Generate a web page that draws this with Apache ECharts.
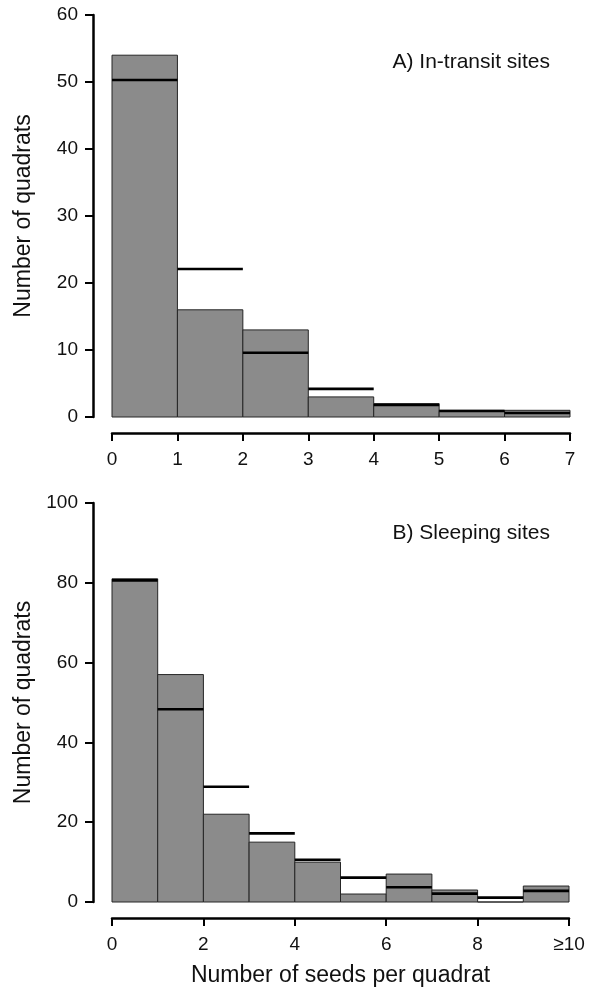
<!DOCTYPE html>
<html>
<head>
<meta charset="utf-8" />
<title>Seeds per quadrat</title>
<script src="https://cdn.jsdelivr.net/npm/echarts@6/dist/echarts.min.js"></script>
</head>
<body style="margin:0;background:#fff">
<div id="main" style="width:595px;height:988px;"></div>
<script type="text/javascript">
// A) In-transit sites: bins start at 0..6, width 1
var binsA = [0, 1, 2, 3, 4, 5, 6];
var obsA = [54, 16, 13, 3, 2, 1, 1];
var expA = [50.3, 22.1, 9.6, 4.2, 1.8, 0.9, 0.6];
var xTicksA = [0, 1, 2, 3, 4, 5, 6, 7];

// B) Sleeping sites: bins 0..9 (last bin is >=10)
var binsB = [0, 1, 2, 3, 4, 5, 6, 7, 8, 9];
var obsB = [81, 57, 22, 15, 10, 2, 7, 3, 0, 4];
var expB = [80.6, 48.3, 28.9, 17.2, 10.6, 6.1, 3.7, 2.1, 1.1, 2.8];
var xTicksB = [0, 2, 4, 6, 8, 10];
var xLabelsB = ['0', '2', '4', '6', '8', '≥10'];

var font = 'Liberation Sans, Arial, sans-serif';

function pairs(xs, ys) {
	var out = [];
	for (var i = 0; i < xs.length; i++) out.push([xs[i], ys[i]]);
	return out;
}

function barItem(params, api) {
	var p0 = api.coord([api.value(0), api.value(1)]);
	var p1 = api.coord([api.value(0) + 1, 0]);
	return {
		type: 'rect',
		shape: {x: p0[0], y: p0[1], width: p1[0] - p0[0], height: p1[1] - p0[1]},
		style: {fill: '#8b8b8b', stroke: '#262626', lineWidth: 1}
	};
}

function lineItem(params, api) {
	var p0 = api.coord([api.value(0), api.value(1)]);
	var p1 = api.coord([api.value(0) + 1, api.value(1)]);
	return {
		type: 'line',
		shape: {x1: p0[0], y1: p0[1], x2: p1[0], y2: p1[1]},
		style: {stroke: '#000', lineWidth: 2.6}
	};
}

function xAxisOf(idx, max, step, fmt) {
	return {
		type: 'value', gridIndex: idx, min: 0, max: max, interval: step, offset: 16,
		axisLine: {show: true, onZero: false, lineStyle: {color: '#000', width: 2.5}},
		axisTick: {show: true, inside: false, length: 8, lineStyle: {color: '#000', width: 2}},
		axisLabel: {color: '#111', fontSize: 19, fontFamily: font, margin: 17, formatter: fmt},
		splitLine: {show: false}
	};
}

function yAxisOf(idx, max, step) {
	return {
		type: 'value', gridIndex: idx, min: 0, max: max, interval: step, offset: 19,
		name: 'Number of quadrats', nameLocation: 'middle', nameGap: 58,
		nameTextStyle: {color: '#111', fontSize: 23, fontFamily: font},
		axisLine: {show: true, onZero: false, lineStyle: {color: '#000', width: 2.5}},
		axisTick: {show: true, inside: false, length: 8, lineStyle: {color: '#000', width: 2}},
		axisLabel: {color: '#111', fontSize: 19, fontFamily: font, margin: 15},
		splitLine: {show: false}
	};
}

var myChart = echarts.init(document.getElementById('main'));

var xb = xAxisOf(1, 10, 2, function (v) {
	var i = xTicksB.indexOf(v);
	return i >= 0 ? xLabelsB[i] : '';
});
xb.name = 'Number of seeds per quadrat';
xb.nameLocation = 'middle';
xb.nameGap = 46;
xb.nameTextStyle = {color: '#111', fontSize: 23, fontFamily: font};

var option = {
	backgroundColor: '#fff',
	animation: false,
	grid: [
		{left: 112, width: 458, top: 15, height: 402},
		{left: 112, width: 457, top: 503, height: 400}
	],
	xAxis: [
		xAxisOf(0, xTicksA[xTicksA.length - 1], 1),
		xb
	],
	yAxis: [
		yAxisOf(0, 60, 10),
		yAxisOf(1, 100, 20)
	],
	graphic: [
		{type: 'text', right: 45, top: 52, style: {text: 'A) In-transit sites', fill: '#111', fontSize: 21, fontFamily: font}},
		{type: 'text', right: 45, top: 523, style: {text: 'B) Sleeping sites', fill: '#111', fontSize: 21, fontFamily: font}}
	],
	series: [
		{type: 'custom', xAxisIndex: 0, yAxisIndex: 0, renderItem: barItem, encode: {x: 0, y: 1}, data: pairs(binsA, obsA)},
		{type: 'custom', xAxisIndex: 0, yAxisIndex: 0, renderItem: lineItem, encode: {x: 0, y: 1}, data: pairs(binsA, expA), z: 3},
		{type: 'custom', xAxisIndex: 1, yAxisIndex: 1, renderItem: barItem, encode: {x: 0, y: 1}, data: pairs(binsB, obsB)},
		{type: 'custom', xAxisIndex: 1, yAxisIndex: 1, renderItem: lineItem, encode: {x: 0, y: 1}, data: pairs(binsB, expB), z: 3}
	]
};

myChart.setOption(option);
</script>
</body>
</html>
